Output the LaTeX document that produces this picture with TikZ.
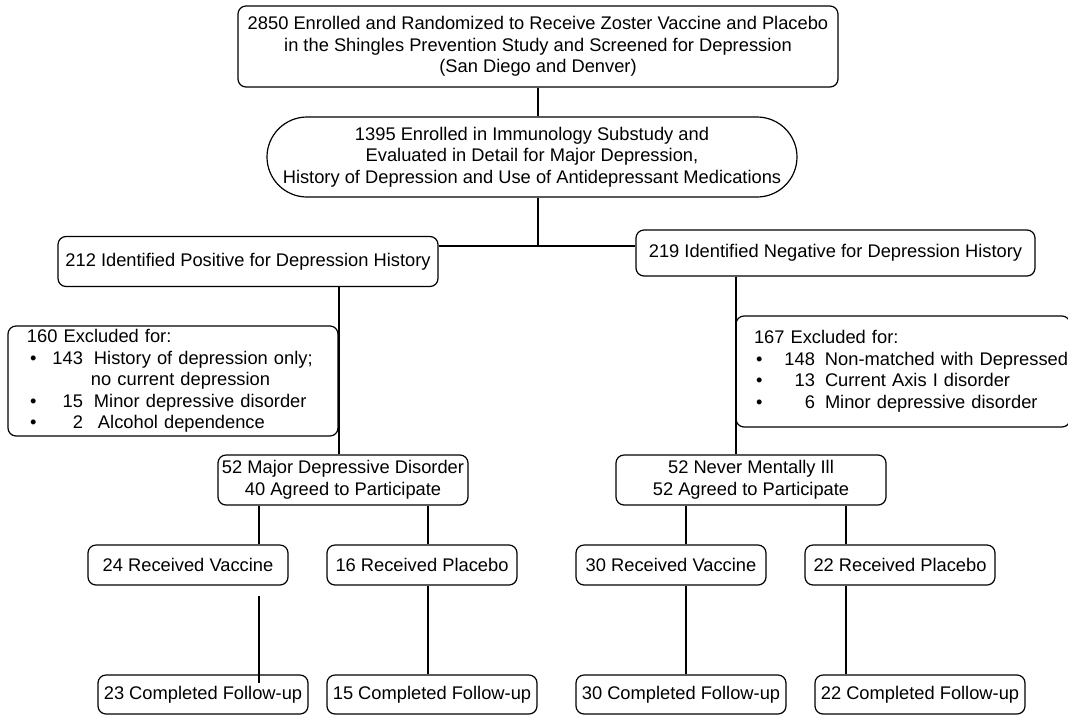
\documentclass[tikz,border=0pt]{standalone}
\usepackage{fontspec}
\setmainfont{Liberation Sans}
\newcommand\fsz{\fontsize{18.3}{21.5}\selectfont}
\newcommand\exA[2]{\makebox[26pt][l]{\hspace{3pt}•}\makebox[30pt][r]{#1}\hspace{11pt}#2}
\newcommand\exB[2]{\makebox[31pt][l]{\hspace{2pt}•}\makebox[30pt][r]{#1}\hspace{10pt}#2}
\tikzset{
  box/.style={draw, line width=1.2pt, rounded corners=8pt, align=center, inner sep=0pt, font=\fsz},
  exbox/.style={box, align=left, inner ysep=0pt},
  ln/.style={line width=1.2pt},
}
\begin{document}
\begin{tikzpicture}[x=1pt,y=-1pt]
\useasboundingbox (0,0) rectangle (1068,716);
\node[box, minimum width=600pt, minimum height=81pt] (top) at (538,46.5)
  {2850 Enrolled and Randomized to Receive Zoster Vaccine and Placebo\\in the Shingles Prevention Study and Screened for Depression\\(San Diego and Denver)};
\node[box, rounded corners=40pt, minimum width=530pt, minimum height=80pt] (sub) at (532,157)
  {1395 Enrolled in Immunology Substudy and\\Evaluated in Detail for Major Depression,\\History of Depression and Use of Antidepressant Medications};
\node[box, minimum width=380pt, minimum height=50pt] (pos) at (248,261.5) {212 Identified Positive for Depression History};
\node[box, minimum width=399pt, minimum height=46pt] (neg) at (835.5,253) {219 Identified Negative for Depression History};
\node[exbox, text width=292pt, inner xsep=19pt, minimum height=110pt] (exa) at (173,381)
  {160 Excluded for:\\\exA{143}{History of depression only;}\\\hspace{64pt}no current depression\\\exA{15}{Minor depressive disorder}\\\makebox[26pt][l]{\hspace{3pt}•}\makebox[30pt][r]{2}\hspace{15pt}Alcohol dependence};
\node[exbox, text width=298pt, inner xsep=18pt, minimum height=111pt] (exb) at (903,371.5)
  {167 Excluded for:\\\mbox{\exB{148}{Non-matched with Depressed}}\\\exB{13}{Current Axis I disorder}\\\exB{6}{Minor depressive disorder}};
\node[box, minimum width=250pt, minimum height=50pt] (mdd) at (343,480) {52 Major Depressive Disorder\\40 Agreed to Participate};
\node[box, minimum width=270pt, minimum height=50pt] (nmi) at (751,480) {52 Never Mentally Ill\\52 Agreed to Participate};
\node[box, minimum width=200pt, minimum height=40pt] (va) at (188,565) {24 Received Vaccine};
\node[box, minimum width=190pt, minimum height=40pt] (pa) at (422,565) {16 Received Placebo};
\node[box, minimum width=190pt, minimum height=40pt] (vb) at (671,565) {30 Received Vaccine};
\node[box, minimum width=190pt, minimum height=40pt] (pb) at (900,565) {22 Received Placebo};
\node[box, minimum width=210pt, minimum height=39pt] (ca) at (203,694.5) {23 Completed Follow-up};
\node[box, minimum width=210pt, minimum height=39pt] (cb) at (432,694.5) {15 Completed Follow-up};
\node[box, minimum width=210pt, minimum height=39pt] (cc) at (681,694.5) {30 Completed Follow-up};
\node[box, minimum width=210pt, minimum height=39pt] (cd) at (920,694.5) {22 Completed Follow-up};
\coordinate (j) at (538,246);
\coordinate (pl) at (339,0);
\coordinate (nl) at (736,0);
\coordinate (a1) at (259,0);
\coordinate (a2) at (428,0);
\coordinate (a3) at (686,0);
\coordinate (a4) at (846,0);
\draw[ln] (top.south) -- (sub.north -| top.south);
\draw[ln] (sub.south -| j) -- (j);
\draw[ln] (pos.east |- j) -- (neg.west |- j);
\draw[ln] (pos.south -| pl) -- (mdd.north -| pl);
\draw[ln] (neg.south -| nl) -- (nmi.north -| nl);
\draw[ln] (mdd.south -| a1) -- (va.north -| a1);
\draw[ln] (mdd.south -| a2) -- (pa.north -| a2);
\draw[ln] (nmi.south -| a3) -- (vb.north -| a3);
\draw[ln] (nmi.south -| a4) -- (pb.north -| a4);
\draw[ln] ([yshift=-10pt]va.south -| a1) -- ([yshift=-9pt]ca.north -| a1);
\draw[ln] (pa.south -| a2) -- (cb.north -| a2);
\draw[ln] (vb.south -| a3) -- (cc.north -| a3);
\draw[ln] (pb.south -| a4) -- (cd.north -| a4);
\end{tikzpicture}
\end{document}
